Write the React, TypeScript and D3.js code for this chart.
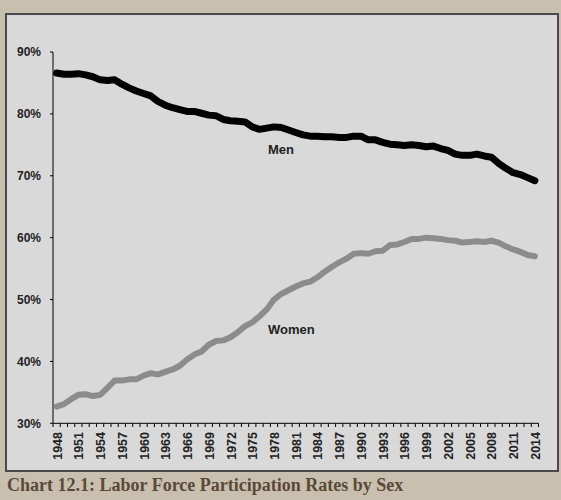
import * as d3 from "d3";

const years = d3.range(1948, 2015).map(String);
const tickYears = years.filter((_, i) => i % 3 === 0);
const yTicks = [30, 40, 50, 60, 70, 80, 90];

const men = [
  86.6, 86.4, 86.4, 86.5, 86.3, 86.0, 85.5, 85.4, 85.5, 84.8,
  84.2, 83.7, 83.3, 82.9, 82.0, 81.4, 81.0, 80.7, 80.4, 80.4,
  80.1, 79.8, 79.7, 79.1, 78.9, 78.8, 78.7, 77.9, 77.5, 77.7,
  77.9, 77.8, 77.4, 77.0, 76.6, 76.4, 76.4, 76.3, 76.3, 76.2,
  76.2, 76.4, 76.4, 75.8, 75.8, 75.4, 75.1, 75.0, 74.9, 75.0,
  74.9, 74.7, 74.8, 74.4, 74.1, 73.5, 73.3, 73.3, 73.5, 73.2,
  73.0, 72.0, 71.2, 70.5, 70.2, 69.7, 69.2,
];

const women = [
  32.7, 33.1, 33.9, 34.6, 34.7, 34.4, 34.6, 35.7, 36.9, 36.9,
  37.1, 37.1, 37.7, 38.1, 37.9, 38.3, 38.7, 39.3, 40.3, 41.1,
  41.6, 42.7, 43.3, 43.4, 43.9, 44.7, 45.7, 46.3, 47.3, 48.4,
  50.0, 50.9, 51.5, 52.1, 52.6, 52.9, 53.6, 54.5, 55.3, 56.0,
  56.6, 57.4, 57.5, 57.4, 57.8, 57.9, 58.8, 58.9, 59.3, 59.8,
  59.8, 60.0, 59.9, 59.8, 59.6, 59.5, 59.2, 59.3, 59.4, 59.3,
  59.5, 59.2, 58.6, 58.1, 57.7, 57.2, 57.0,
];

const W = 561;
const H = 500;
const narrow = "'Liberation Sans Narrow', 'Arial Narrow', 'Liberation Sans', sans-serif";

export default function App() {
  const x = d3.scaleBand().domain(years).range([53, 538.5]);
  const y = d3.scaleLinear().domain([30, 90]).range([423.3, 52]);
  const cx = (d: string) => (x(d) ?? 0) + x.bandwidth() / 2;

  const line = d3
    .line<number>()
    .x((_, i) => cx(years[i]))
    .y((v) => y(v))
    .curve(d3.curveLinear);

  // tick marks sit between categories, like the original
  const xTickPos = d3.range(years.length + 1).map((i) => 53 + i * x.step());

  return (
    <svg
      width={W}
      height={H}
      style={{ position: "absolute", left: 0, top: 0 }}
    >
      <rect width={W} height={H} fill="#c8bfae" />
      <rect x={6} y={14} width={552} height={457} fill="#d9d9d9" stroke="#4a4a4a" strokeWidth={2} />

      {/* y axis */}
      <line x1={53} x2={53} y1={52} y2={423.3} stroke="#000" strokeWidth={1} />
      {yTicks.map((t) => (
        <g key={t}>
          <line x1={50} x2={53} y1={y(t)} y2={y(t)} stroke="#000" />
          <text
            x={41}
            y={y(t)}
            dy="0.35em"
            textAnchor="end"
            fontFamily={narrow}
            fontWeight="bold"
            fontSize={12}
            fill="#222"
          >
            {t}%
          </text>
        </g>
      ))}

      {/* x axis */}
      <line x1={53} x2={538.5} y1={423.3} y2={423.3} stroke="#000" strokeWidth={1} />
      {xTickPos.map((p, i) => (
        <line key={i} x1={p} x2={p} y1={423.3} y2={427} stroke="#000" />
      ))}
      {tickYears.map((yr) => (
        <text
          key={yr}
          transform={`translate(${cx(yr) + 5},432) rotate(-90)`}
          textAnchor="end"
          fontFamily={narrow}
          fontWeight="bold"
          fontSize={12.5}
          fill="#222"
        >
          {yr}
        </text>
      ))}

      <path d={line(women) ?? ""} fill="none" stroke="#8c8c8c" strokeWidth={6} strokeLinejoin="round" strokeLinecap="round" />
      <path d={line(men) ?? ""} fill="none" stroke="#000" strokeWidth={7} strokeLinejoin="round" strokeLinecap="round" />

      <text x={268} y={154} fontFamily={narrow} fontWeight="bold" fontSize={13} fill="#222">
        Men
      </text>
      <text x={268} y={334} fontFamily={narrow} fontWeight="bold" fontSize={13} fill="#222">
        Women
      </text>

      <text
        x={7}
        y={491}
        fontFamily="'Liberation Serif', 'DejaVu Serif', serif"
        fontWeight="bold"
        fontSize={18}
        fill="#5a4938"
      >
        Chart 12.1: Labor Force Participation Rates by Sex
      </text>
    </svg>
  );
}
